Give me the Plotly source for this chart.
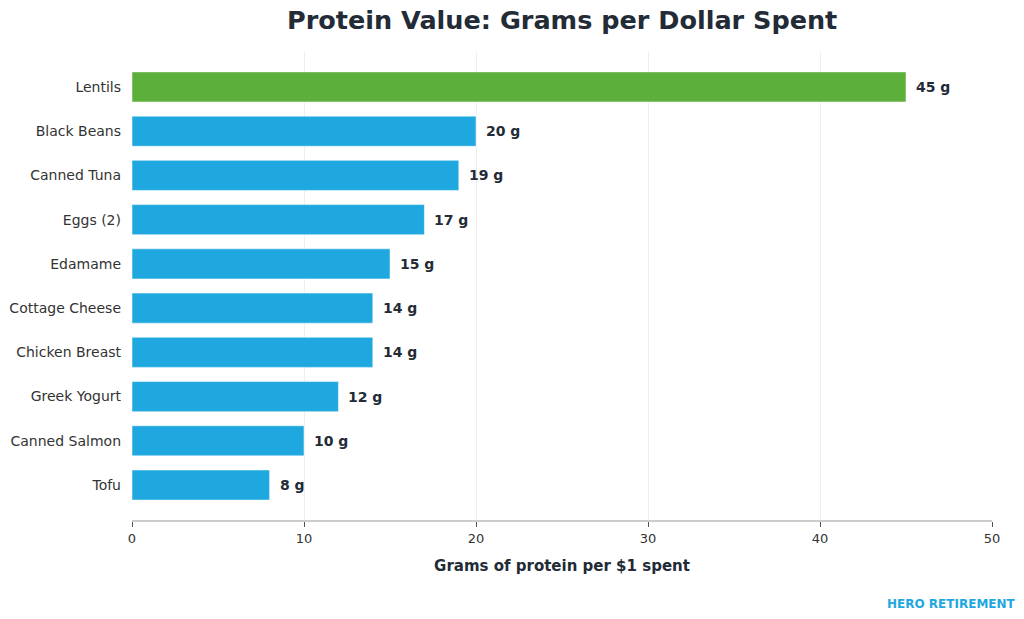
import plotly.graph_objects as go

# data (bottom to top as drawn)
foods = ["Tofu", "Canned Salmon", "Greek Yogurt", "Chicken Breast", "Cottage Cheese",
         "Edamame", "Eggs (2)", "Canned Tuna", "Black Beans", "Lentils"]
grams = [8, 10, 12, 14, 14, 15, 17, 19, 20, 45]
x_ticks = [0, 10, 20, 30, 40, 50]

BLUE = "#1FA8DF"
GREEN = "#5BAF3A"
DARK = "#222B36"
FONT = "DejaVu Sans"

colors = [GREEN if g == max(grams) else BLUE for g in grams]

fig = go.Figure()
fig.add_trace(go.Bar(
    x=grams,
    y=foods,
    orientation="h",
    width=0.68,
    marker=dict(color=colors, line=dict(color="rgba(255,255,255,0.5)", width=1)),
    hoverinfo="x+y",
))

# value labels at the end of each bar
for food, g in zip(foods, grams):
    fig.add_annotation(
        x=g, y=food, text=f"<b>{g} g</b>", showarrow=False,
        xanchor="left", xshift=8,
        font=dict(family=FONT, size=14, color=DARK),
    )

fig.add_annotation(
    x=1.0, y=0.0, xref="paper", yref="paper", yshift=-84, xshift=26,
    text="<b>HERO RETIREMENT</b>", showarrow=False,
    xanchor="right", yanchor="middle",
    font=dict(family=FONT, size=12, color=BLUE),
)

fig.update_layout(
    width=1024, height=619,
    margin=dict(l=132, r=32, t=52, b=99, autoexpand=False),
    paper_bgcolor="white",
    plot_bgcolor="white",
    showlegend=False,
    title=dict(
        text="<b>Protein Value: Grams per Dollar Spent</b>",
        x=0.549, xanchor="center", y=0.967, yanchor="middle",
        font=dict(family=FONT, size=25.5, color=DARK),
    ),
    font=dict(family=FONT, color="#333333"),
)

fig.update_xaxes(
    range=[0, 50],
    tickvals=x_ticks,
    ticks="outside", ticklen=5, tickcolor="#555555",
    tickfont=dict(family=FONT, size=13, color="#333333"),
    showgrid=True, gridcolor="#EEEEEE", gridwidth=1,
    showline=True, linecolor="#CCCCCC", linewidth=2,
    zeroline=False, automargin=False,
    title=dict(text="<b>Grams of protein per $1 spent</b>",
               font=dict(family=FONT, size=15, color=DARK), standoff=16),
)
fig.update_yaxes(
    range=[-0.79, 9.79],
    tickfont=dict(family=FONT, size=14, color="#333333"),
    showgrid=False, showline=False, ticks="", ticklabelstandoff=10,
    automargin=False,
)

fig.write_html("out.html", config={"displayModeBar": False},
               post_script="document.body.style.margin='0';")
